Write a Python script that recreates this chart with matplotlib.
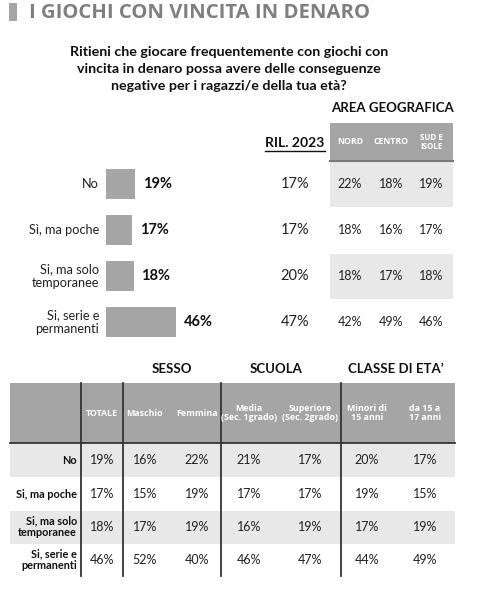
import matplotlib
matplotlib.use("Agg")
import matplotlib.pyplot as plt
from matplotlib.patches import Rectangle

# ---------------- data ----------------
answers = ["No", "Sì, ma poche", "Si, ma solo\ntemporanee", "Si, serie e\npermanenti"]
answers_tab = ["No", "Si, ma poche", "Si, ma solo\ntemporanee", "Si, serie e\npermanenti"]
totale = [19, 17, 18, 46]
ril_2023 = [17, 17, 20, 47]
area_labels = ["NORD", "CENTRO", "SUD E\nISOLE"]
nord = [22, 18, 18, 42]
centro = [18, 16, 17, 49]
sud = [19, 17, 18, 46]

col_labels = ["TOTALE", "Maschio", "Femmina", "Media\n(Sec. 1grado)", "Superiore\n(Sec. 2grado)",
              "Minori di\n15 anni", "da 15 a\n17 anni"]
maschio = [16, 15, 17, 52]
femmina = [22, 19, 19, 40]
media = [21, 17, 16, 46]
superiore = [17, 17, 19, 47]
minori15 = [20, 19, 17, 44]
da15a17 = [17, 15, 19, 49]
groups = ["SESSO", "SCUOLA", "CLASSE DI ETA’"]

title = "I GIOCHI CON VINCITA IN DENARO"
question = ("Ritieni che giocare frequentemente con giochi con\n"
            "vincita in denaro possa avere delle conseguenze\n"
            "negative per i ragazzi/e della tua età?")

# ---------------- style ----------------
W, H = 490, 604
BODY = ["Lato", "DejaVu Sans"]
HEADF = ["Open Sans", "DejaVu Sans"]
HEAD_GREY = "#a5a5a5"
LIGHT = "#e8e8e8"
BAR = "#a6a6a6"

fig = plt.figure(figsize=(W / 100, H / 100), dpi=100)
ax = fig.add_axes([0, 0, 1, 1])
ax.set_xlim(0, W)
ax.set_ylim(H, 0)
ax.axis("off")

# title
ax.add_patch(Rectangle((9, 3), 8, 18, color=BAR, lw=0))
ax.text(29, 13, title, fontsize=14.6, fontweight="bold", color="#7f7f7f",
        family=HEADF, va="center", ha="left")
ax.text(229, 69, question, fontsize=10.3, fontweight="bold", color="#111111",
        family=BODY, va="center", ha="center", linespacing=1.45)

# ---------- top section ----------
row_y = [184, 230, 276, 322]
row_h = 46
area_x = [350, 391, 431]
ax.text(392, 108, "AREA GEOGRAFICA", fontsize=9.5, fontweight="bold", family=BODY,
        ha="center", va="center", color="#111111")
ax.add_patch(Rectangle((330, 123), 123, 37, color=HEAD_GREY, lw=0))
ax.plot([330, 453], [160.5, 160.5], color="#7a7a7a", lw=1.5)
for x, lab in zip(area_x, area_labels):
    ax.text(x, 142, lab, fontsize=5.8 if "\n" in lab else 6.3, fontweight="bold", color="white",
            family=HEADF, ha="center", va="center", linespacing=1.0)
ax.text(295, 143, "RIL. 2023", fontsize=10, fontweight="bold", family=BODY,
        ha="center", va="center", color="#111111")
ax.plot([265, 325], [151, 151], color="#111111", lw=1)

for i, y in enumerate(row_y):
    if i % 2 == 0:
        ax.add_patch(Rectangle((330, y - row_h / 2 + 1), 123, row_h - 1, color=LIGHT, lw=0))
    ax.text(99, y, answers[i], fontsize=9.2, family=BODY, ha="right", va="center",
            color="#222222", linespacing=1.2)
    ax.text(295, y, f"{ril_2023[i]}%", fontsize=10.5, family=BODY, ha="center", va="center",
            color="#222222")
    for x, vals in zip(area_x, [nord, centro, sud]):
        ax.text(x, y, f"{vals[i]}%", fontsize=9, family=BODY, ha="center", va="center",
                color="#222222")

# bar axes: 100% = 153 px, rows 161..345
bax = fig.add_axes([106 / W, 1 - 345 / H, 153 / W, 184 / H])
bax.set_xlim(0, 100)
bax.set_ylim(3.5, -0.5)
bax.axis("off")
bax.barh(range(len(totale)), totale, height=0.65, color=BAR, lw=0)
for i, v in enumerate(totale):
    bax.text(v + 5, i, f"{v}%", fontsize=10.5, fontweight="bold", family=BODY,
             ha="left", va="center", color="#111111")

# ---------- bottom table ----------
grp_x = [172, 276, 396]
for x, g in zip(grp_x, groups):
    ax.text(x, 369, g, fontsize=9.5, fontweight="bold", family=BODY, ha="center",
            va="center", color="#111111")
ax.add_patch(Rectangle((10, 383), 445, 60, color=HEAD_GREY, lw=0))
ax.plot([10, 455], [443, 443], color="#333333", lw=1.3)
col_x = [102, 145, 197, 249, 310, 367, 425]
for x, lab in zip(col_x, col_labels):
    ax.text(x, 413, lab, fontsize=6.4, fontweight="bold", color="white", family=HEADF,
            ha="center", va="center", linespacing=1.1)
tab_y = [460, 494, 527, 560]
tab_h = 33
cols = [totale, maschio, femmina, media, superiore, minori15, da15a17]
for i, y in enumerate(tab_y):
    if i % 2 == 0:
        ax.add_patch(Rectangle((10, y - tab_h / 2), 445, tab_h, color=LIGHT, lw=0))
    ax.text(77, y, answers_tab[i], fontsize=7.8, fontweight="bold", family=BODY,
            ha="right", va="center", color="#111111", linespacing=1.1)
    for x, vals in zip(col_x, cols):
        ax.text(x, y, f"{vals[i]}%", fontsize=9, family=BODY, ha="center", va="center",
                color="#222222")
for x in [81, 123, 221, 341]:
    ax.plot([x, x], [383, 576], color="#333333", lw=1.3)

fig.savefig("out.png", dpi=100)
